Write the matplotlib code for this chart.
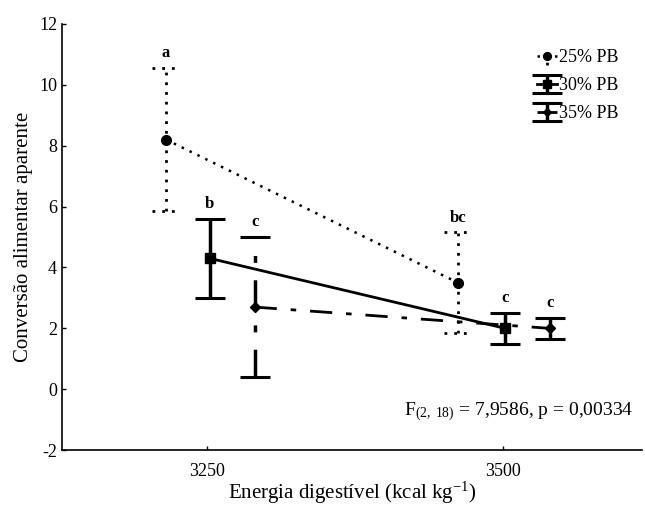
import numpy as np
import matplotlib
matplotlib.use("Agg")
import matplotlib.pyplot as plt

plt.rcParams['font.family'] = ['Liberation Serif', 'DejaVu Serif']
plt.rcParams['mathtext.fontset'] = 'custom'
plt.rcParams['mathtext.rm'] = 'Liberation Serif'
plt.rcParams['mathtext.it'] = 'Liberation Serif:italic'
plt.rcParams['axes.unicode_minus'] = False

# data
energy = [3250, 3500]
x_25 = [3215, 3462]
x_30 = [3252, 3502]
x_35 = [3290, 3540]
mean_25 = [8.2, 3.5]
err_25 = [2.35, 1.65]
mean_30 = [4.3, 2.0]
err_30 = [1.3, 0.5]
mean_35 = [2.7, 2.0]
err_35 = [2.3, 0.35]
letters_25 = ['a', 'bc']
letters_30 = ['b', 'c']
letters_35 = ['c', 'c']

fig = plt.figure(figsize=(6.45, 5.07), dpi=100)
ax = fig.add_axes([0.096, 0.112, 0.90, 0.841])

# 25% PB - dotted
dot = (0, (1, 2.5))
e25 = ax.errorbar(x_25, mean_25, yerr=err_25, color='black', lw=1.8, ls=dot,
                  marker='o', ms=7, capsize=0, elinewidth=2, label='25% PB')
e25[2][0].set_linestyle(dot)
lo = np.array(mean_25) - np.array(err_25)
hi = np.array(mean_25) + np.array(err_25)
xx = np.array(x_25)
ax.hlines(np.concatenate([lo, hi]), np.concatenate([xx, xx]) - 12,
          np.concatenate([xx, xx]) + 12, color='black', lw=2, linestyles=dot)

# 30% PB - solid
ax.errorbar(x_30, mean_30, yerr=err_30, color='black', lw=2, ls='-',
            marker='s', ms=7, capsize=11, capthick=2.2, elinewidth=2.5,
            label='30% PB')

# 35% PB - dash dot
e35 = ax.errorbar(x_35, mean_35, yerr=err_35, color='black', lw=2,
                  ls=(0, (8, 5, 2, 5)), marker='D', ms=5, capsize=11,
                  capthick=2.2, elinewidth=2.5, label='35% PB')
e35[2][0].set_linestyle((0, (8, 5, 2, 5)))

# significance letters
for xs, ms, es, labs in [(x_25, mean_25, err_25, letters_25),
                         (x_30, mean_30, err_30, letters_30),
                         (x_35, mean_35, err_35, letters_35)]:
    for x, m, e, t in zip(xs, ms, es, labs):
        ax.text(x, m + e + 0.22, t, ha='center', va='bottom',
                fontsize=12, fontweight='bold')

ax.text(0.985, 0.065, r'F$_{(2,\ 18)}$ = 7,9586, p = 0,00334', transform=ax.transAxes,
        ha='right', va='bottom', fontsize=14)

ax.set_xlim(3127, 3618)
ax.set_ylim(-2, 12)
ax.set_xticks(energy)
ax.set_yticks(np.arange(-2, 13, 2))
ax.tick_params(direction='in', length=3, labelsize=13, width=1)
ax.tick_params(axis='x', pad=9)
ax.spines['top'].set_visible(False)
ax.spines['right'].set_visible(False)
ax.spines['left'].set_linewidth(1.2)
ax.spines['bottom'].set_linewidth(1.2)

ax.set_xlabel('Energia digestível (kcal kg$^{-1}$)', fontsize=15, labelpad=0)
ax.set_ylabel('Conversão alimentar aparente', fontsize=15, labelpad=4)

ax.legend(loc='upper right', frameon=False, fontsize=13, handlelength=1.1,
          handletextpad=0.1, labelspacing=0.6, borderaxespad=0.3,
          bbox_to_anchor=(0.98, 0.97), markerscale=0.8)

fig.savefig('out.png', dpi=100)
